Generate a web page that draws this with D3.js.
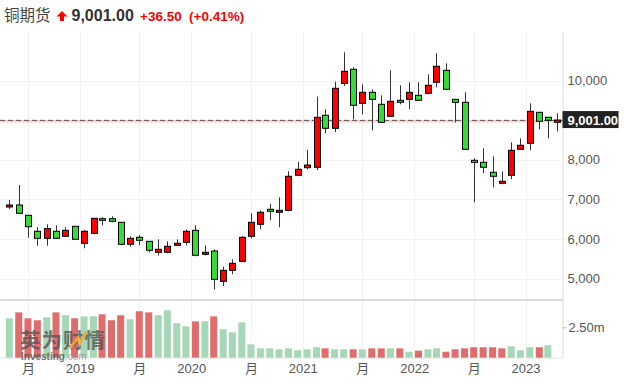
<!DOCTYPE html>
<html><head><meta charset="utf-8">
<script src="https://cdn.jsdelivr.net/npm/d3@7"></script>
<style>
html,body{margin:0;padding:0;background:#fff;}
svg{display:block;}
</style></head>
<body><svg id="c" width="624" height="391"></svg>
<script>
const months = ["2018-05","2018-06","2018-07","2018-08","2018-09","2018-10","2018-11","2018-12",
"2019-01","2019-02","2019-03","2019-04","2019-05","2019-06","2019-07","2019-08","2019-09","2019-10","2019-11","2019-12",
"2020-01","2020-02","2020-03","2020-04","2020-05","2020-06","2020-07","2020-08","2020-09","2020-10","2020-11","2020-12",
"2021-01","2021-02","2021-03","2021-04","2021-05","2021-06","2021-07","2021-08","2021-09","2021-10","2021-11","2021-12",
"2022-01","2022-02","2022-03","2022-04","2022-05","2022-06","2022-07","2022-08","2022-09","2022-10","2022-11","2022-12",
"2023-01","2023-02","2023-03","2023-04"];
const open  = [6806,6856,6596,6192,6015,6192,6066,6318,5889,6141,6510,6510,6419,5864,6040,5939,5662,5662,5838,5914,
6217,5611,5694,4930,5207,5434,6066,6369,6747,6672,6722,7606,7798,7808,9121,8793,9929,10283,9424,9702,
9399,9096,9500,9525,9626,9677,9955,10258,9525,9449,7985,7934,7682,7404,7606,8262,8414,9197,9071,8944];
const high  = [6982,7361,6600,6293,6369,6343,6293,6320,6225,6525,6553,6571,6425,6066,6098,5945,5990,5939,5990,6242,
6343,5838,5737,5299,5485,6073,6646,6722,6881,7050,7707,7949,8245,9591,9273,9970,10712,10333,9904,9778,
9626,10258,9879,9955,9955,10157,10687,10434,9530,9702,8035,8288,8086,7707,8439,8540,9424,9200,9075,9172];
const low   = [6755,6640,6030,5828,5828,6010,6060,5985,5763,6116,6343,6419,5838,5803,5838,5662,5586,5636,5833,5838,
5561,5586,4722,4811,5106,5409,6015,6242,6470,6293,6697,7590,7758,7740,8667,8699,9861,9020,9146,8742,
8940,9090,9399,9273,9495,9651,9828,9775,8944,8255,6924,7657,7303,7379,7505,8255,8237,8768,8540,8717];
const close = [6856,6646,6308,6015,6258,6015,6217,5990,6192,6520,6470,6444,5864,6015,5965,5712,5737,5813,5889,6192,
5586,5662,4978,5207,5384,6040,6419,6672,6697,6722,7581,7758,7866,9071,8793,9803,10232,9374,9702,9525,
8944,9475,9449,9702,9500,9879,10359,9778,9449,8262,7934,7808,7581,7455,8237,8364,9222,8970,8995,9001];
// volume in millions
const volume = [3.24,3.73,3.24,3.08,3.32,3.73,3.49,3.24,3.40,3.40,3.57,3.08,3.49,3.16,3.82,3.73,3.49,3.90,2.83,2.58,
2.99,2.99,3.40,2.34,2.09,2.91,1.10,0.77,0.77,0.69,0.77,0.61,0.69,0.86,0.77,0.69,0.69,0.69,0.69,0.77,
0.77,0.77,0.77,0.49,0.58,0.69,0.77,0.49,0.69,0.77,0.86,0.86,0.86,0.77,0.94,0.61,0.86,0.86,1.02,null];
const gridTicks = [5000,6000,7000,8000,9000,10000];
const priceLabelTicks = [5000,6000,7000,8000,10000];
const volTicks = [2.5];
const xTickDates = ["2018-07-15","2019-01-01","2019-07-15","2020-01-01","2020-07-15","2021-01-01","2021-07-15","2022-01-01","2022-07-15","2023-01-01"];
const xTickLabels = ["月","2019","月","2020","月","2021","月","2022","月","2023"];
const title = "铜期货";
const lastPrice = 9001.00;
const change = "+36.50";
const changePct = "(+0.41%)";

const svg = d3.select("#c");
const plotRight = 562.5;
const parseM = d3.timeParse("%Y-%m-%d");
const dates = months.map(m => parseM(m + "-15"));
const data = dates.map((d,i) => ({d, o:open[i], h:high[i], l:low[i], c:close[i], v:volume[i], pc: i>0?close[i-1]:null}));

const x = d3.scaleTime().domain([dates[0], dates[dates.length-1]]).range([9.3, 557.3]);
const y = d3.scaleLinear().domain([5000,10000]).range([278.5, 80.5]);
const yv = d3.scaleLinear().domain([0,2.5]).range([357.7, 327.3]);

const fontLat = "'Liberation Sans', Arial, 'Noto Sans CJK SC', sans-serif";

// vertical gridlines
const tickDates = xTickDates.map(s => parseM(s));
svg.append("g").selectAll("line").data(tickDates).join("line")
  .attr("x1", d => Math.round(x(d))+0.5).attr("x2", d => Math.round(x(d))+0.5)
  .attr("y1", 32).attr("y2", 358)
  .attr("stroke", "#f2f2f2").attr("stroke-width", 1);
// horizontal gridlines
svg.append("g").selectAll("line").data(gridTicks).join("line")
  .attr("x1", 0).attr("x2", plotRight)
  .attr("y1", d => Math.round(y(d))+0.5).attr("y2", d => Math.round(y(d))+0.5)
  .attr("stroke", "#f2f2f2").attr("stroke-width", 1);

// right axis line
svg.append("line").attr("x1", plotRight+0.5).attr("x2", plotRight+0.5).attr("y1", 32).attr("y2", 358)
  .attr("stroke", "#dcdcdc");
// volume panel top border
svg.append("line").attr("x1", 0).attr("x2", plotRight+0.5).attr("y1", 300).attr("y2", 300)
  .attr("stroke", "#cfcfcf").attr("stroke-width", 1.5);
// volume baseline
svg.append("line").attr("x1", 0).attr("x2", plotRight+0.5).attr("y1", 358).attr("y2", 358)
  .attr("stroke", "#e3e3e3").attr("stroke-width", 1);

// volume bars
const volData = data.filter(d => d.v != null);
svg.append("g").selectAll("rect").data(volData).join("rect")
  .attr("x", d => x(d.d) - 3.5).attr("width", 7)
  .attr("y", d => yv(d.v)).attr("height", d => yv(0) - yv(d.v))
  .attr("fill", d => (d.pc == null || d.c >= d.pc) ? "#a6d7b6" : "#e06c6c");

// watermark
const wm = svg.append("g").attr("opacity", 0.8);
wm.append("text").attr("x", 20).attr("y", 348).attr("font-family", "'Noto Sans CJK SC', sans-serif")
  .attr("font-size", 20.5).attr("font-weight", "bold").attr("fill", "#555").attr("letter-spacing", 1).text("英为财情");
wm.append("path").attr("d", "M70,348 L78,338 L80,343 L86,332").attr("stroke", "#f5a623").attr("stroke-width", 3).attr("fill", "none");
const wt = wm.append("text").attr("x", 21).attr("y", 360).attr("font-family", fontLat).attr("font-size", 10).attr("fill", "#555");
wt.append("tspan").attr("font-weight", "bold").text("Investing");
wt.append("tspan").attr("fill", "#999").text(".com");

// last price line
svg.append("line").attr("x1", 0).attr("x2", plotRight).attr("y1", y(lastPrice)+1.2).attr("y2", y(lastPrice)+1.2)
  .attr("stroke", "rgba(240,80,80,0.28)").attr("stroke-width", 2.5);
svg.append("line").attr("x1", 0).attr("x2", plotRight).attr("y1", y(lastPrice)+0.3).attr("y2", y(lastPrice)+0.3)
  .attr("stroke", "#555").attr("stroke-width", 1).attr("stroke-dasharray", "5,3");

// candles
const cg = svg.append("g");
cg.selectAll("line").data(data).join("line")
  .attr("x1", d => Math.round(x(d.d))+0.5).attr("x2", d => Math.round(x(d.d))+0.5)
  .attr("y1", d => y(d.h)).attr("y2", d => y(d.l))
  .attr("stroke", "#333").attr("stroke-width", 1);
cg.selectAll("rect").data(data).join("rect")
  .attr("x", d => Math.round(x(d.d)) - 2.5).attr("width", 6)
  .attr("y", d => y(Math.max(d.o,d.c))).attr("height", d => Math.max(1.5, Math.abs(y(d.o)-y(d.c))))
  .attr("fill", d => d.c >= d.o ? "#ff0000" : "#33dd33")
  .attr("stroke", "#000").attr("stroke-width", 1);

// y axis
const yAxis = svg.append("g").attr("transform", `translate(${plotRight},0)`)
  .call(d3.axisRight(y).tickValues(priceLabelTicks).tickFormat(d3.format(",")).tickSize(0).tickPadding(5));
yAxis.select(".domain").remove();
yAxis.selectAll("text").attr("font-family", fontLat).attr("font-size", 13).attr("fill", "#555");

const vAxis = svg.append("g").attr("transform", `translate(${plotRight},0)`)
  .call(d3.axisRight(yv).tickValues(volTicks).tickFormat(d => d.toFixed(2) + "m").tickSize(4).tickPadding(2));
vAxis.select(".domain").remove();
vAxis.selectAll("line").attr("stroke", "#bbb");
vAxis.selectAll("text").attr("font-family", fontLat).attr("font-size", 13).attr("fill", "#555");

// last price label
const lp = svg.append("g");
lp.append("rect").attr("x", plotRight).attr("y", y(lastPrice) - 9).attr("width", 56).attr("height", 17).attr("fill", "#222");
lp.append("text").attr("x", plotRight + 5).attr("y", y(lastPrice) + 4.5).attr("font-family", fontLat)
  .attr("font-size", 13).attr("font-weight", "bold").attr("fill", "#fff").text(d3.format(",.2f")(lastPrice));

// x axis
const xAxis = svg.append("g").attr("transform", "translate(0,358)")
  .call(d3.axisBottom(x).tickValues(tickDates).tickFormat((d,i) => xTickLabels[i]).tickSize(0).tickPadding(6));
xAxis.select(".domain").remove();
xAxis.selectAll("text").attr("font-family", fontLat + ", 'Noto Sans CJK SC'").attr("font-size", 13).attr("fill", "#555");

// header
svg.append("text").attr("x", 4).attr("y", 21).attr("font-family", "'Noto Sans CJK SC', sans-serif")
  .attr("font-size", 15.5).attr("fill", "#444").text(title);
svg.append("path").attr("d", "M62,11 L67.5,16.5 L64,16.5 L64,21 L60,21 L60,16.5 L56.5,16.5 Z").attr("fill", "#f00");
svg.append("text").attr("x", 71.5).attr("y", 21).attr("font-family", fontLat).attr("font-size", 16)
  .attr("font-weight", "bold").attr("fill", "#333").text(d3.format(",.2f")(lastPrice));
svg.append("text").attr("x", 140).attr("y", 21).attr("font-family", fontLat).attr("font-size", 13.5)
  .attr("font-weight", "bold").attr("fill", "#f00").text(change);
svg.append("text").attr("x", 189).attr("y", 21).attr("font-family", fontLat).attr("font-size", 13.5)
  .attr("font-weight", "bold").attr("fill", "#f00").text(changePct);
</script>
</body></html>
